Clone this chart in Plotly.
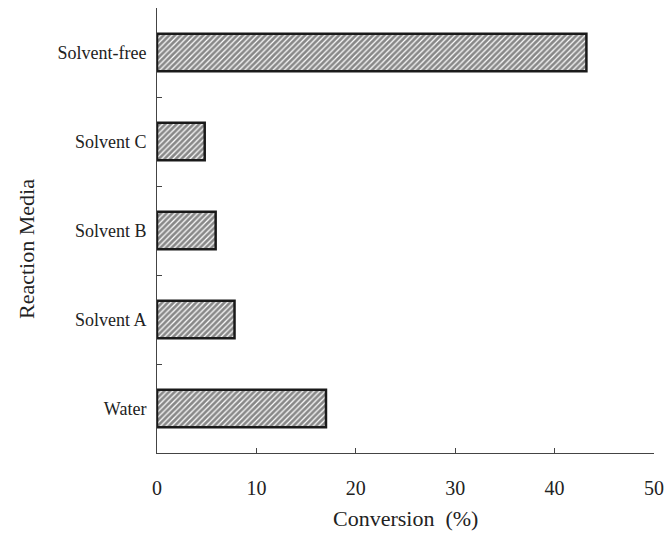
import plotly.graph_objects as go

categories = ["Water", "Solvent A", "Solvent B", "Solvent C", "Solvent-free"]
conversion = [17.0, 7.8, 5.9, 4.8, 43.2]
x_ticks = [0, 10, 20, 30, 40, 50]

fig = go.Figure(go.Bar(
    y=categories, x=conversion, orientation="h", width=0.42,
    marker=dict(
        color="white",
        line=dict(color="#1a1a1a", width=2.5),
        pattern=dict(shape="/", fgcolor="#111111", bgcolor="white", size=4, solidity=0.7),
    ),
))

font = "Liberation Serif, Times New Roman, serif"
fig.update_layout(
    width=665, height=533,
    margin=dict(l=157, r=11, t=8, b=80, autoexpand=False),
    plot_bgcolor="white", paper_bgcolor="white",
    font=dict(family=font, size=18, color="#222"),
    showlegend=False,
    annotations=[
        dict(text="Conversion  (%)", xref="paper", yref="paper", x=0.5, y=-0.1483,
             xanchor="center", yanchor="middle", showarrow=False, font=dict(size=22)),
        dict(text="Reaction Media", xref="paper", yref="paper", x=-0.2636, y=0.4584,
             xanchor="center", yanchor="middle", showarrow=False, textangle=-90,
             font=dict(size=22)),
    ],
)
fig.update_xaxes(
    range=[0, 50], tickvals=x_ticks, showgrid=False, zeroline=False, automargin=False,
    showline=True, linecolor="#444", linewidth=1,
    ticks="inside", ticklen=5, tickcolor="#444",
    ticklabelstandoff=17, tickfont=dict(size=20),
)
fig.update_yaxes(
    categoryorder="array", categoryarray=categories, range=[-0.5, 4.5],
    showgrid=False, zeroline=False, automargin=False,
    showline=True, linecolor="#444", linewidth=1,
    ticks="inside", tickson="boundaries", ticklen=5, tickcolor="#444",
    ticklabelstandoff=6, tickfont=dict(size=18),
)

# remove the default page margin so the figure fills the window exactly
fig.write_html("out.html", config={"displayModeBar": False},
               post_script="document.body.style.margin='0';")
